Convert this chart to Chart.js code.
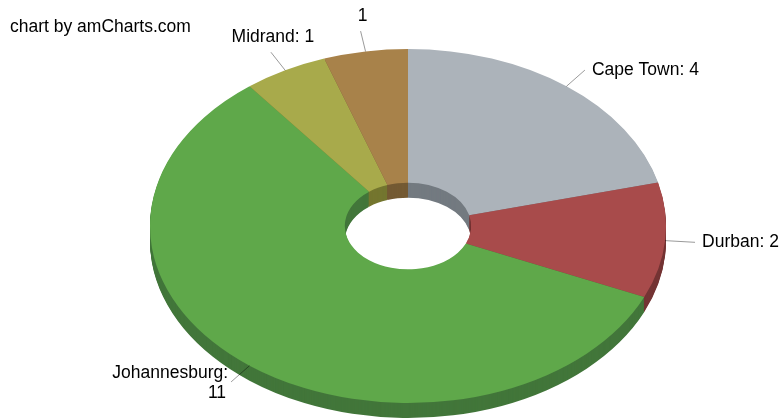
<!DOCTYPE html>
<html>
<head>
<meta charset="utf-8">
<script src="https://cdn.jsdelivr.net/npm/chart.js@4/dist/chart.umd.min.js"></script>
<style>
  body { margin: 0; background: #fff; }
  canvas { display: block; }
</style>
</head>
<body>
<canvas id="chart" width="783" height="419"></canvas>
<script>
/* global Chart */

const cities     = ['Cape Town', 'Durban', 'Johannesburg', 'Midrand', ''];
const counts     = [4, 2, 11, 1, 1];
const topColors  = ['#ACB3BA', '#A84B4B', '#5FA84A', '#A8AA4B', '#A8824A'];
const sideColors = ['#737A80', '#743434', '#42763A', '#74762F', '#745A33'];

// ── Géométrie du donut incliné ───────────────────────────────────────────────
const CX = 408, CY = 226, RX = 258, RY = 177, DEPTH = 15, LABEL_GAP = 30;
const FONT = '17.5px "Liberation Sans", Arial, sans-serif';

function ellipseTransform(ctx, arc, dy) {
  const R = arc.outerRadius;
  ctx.translate(CX, CY + dy);
  ctx.scale(RX / R, RY / R);
  ctx.translate(-arc.x, -arc.y);
}

const tiltPlugin = {
  id: 'tilt',
  beforeDatasetsDraw(chart) {
    const ctx  = chart.ctx;
    const arcs = chart.getDatasetMeta(0).data;
    // épaisseur : l'anneau redessiné plus sombre, décalé vers le bas
    for (let d = DEPTH; d >= 1; d--) {
      arcs.forEach((arc, i) => {
        ctx.save();
        ellipseTransform(ctx, arc, d);
        const saved = arc.options;
        arc.options = Object.assign({}, saved, { backgroundColor: sideColors[i], borderWidth: 0 });
        arc.draw(ctx);
        arc.options = saved;
        ctx.restore();
      });
    }
    ctx.save();
    ellipseTransform(ctx, arcs[0], 0);
  },
  afterDatasetsDraw(chart) {
    chart.ctx.restore();
  },
  afterDraw(chart) {
    const ctx  = chart.ctx;
    const arcs = chart.getDatasetMeta(0).data;
    ctx.save();
    ctx.font = FONT;
    ctx.fillStyle = '#000';
    ctx.textBaseline = 'middle';
    ctx.textAlign = 'left';
    ctx.fillText('chart by amCharts.com', 10, 27);

    arcs.forEach((arc, i) => {
      const mid = (arc.startAngle + arc.endAngle) / 2;
      const c = Math.cos(mid), s = Math.sin(mid);
      const x0 = CX + RX * c, y0 = CY + RY * s;
      const x1 = CX + (RX + LABEL_GAP) * c;
      const y1 = CY + (RX + LABEL_GAP) * (RY / RX) * s;

      ctx.strokeStyle = 'rgba(0,0,0,0.4)';
      ctx.lineWidth = 1;
      ctx.beginPath();
      ctx.moveTo(x0, y0);
      ctx.lineTo(x1, y1);
      ctx.stroke();

      const text = cities[i] ? `${cities[i]}: ${counts[i]}` : String(counts[i]);
      ctx.fillStyle = '#000';
      if (s < -0.84) {
        ctx.textAlign = 'center';
        ctx.fillText(text, x1 + 2, y1 - 15);
      } else if (c > 0) {
        ctx.textAlign = 'left';
        ctx.fillText(text, x1 + 7, y1);
      } else {
        ctx.textAlign = 'right';
        if (ctx.measureText(text).width > 130) {
          ctx.fillText(`${cities[i]}:`, x1 - 3, y1 - 9);
          ctx.fillText(String(counts[i]), x1 - 5, y1 + 11);
        } else {
          ctx.fillText(text, x1 - 3, y1);
        }
      }
    });
    ctx.restore();
  },
};

new Chart(document.getElementById('chart'), {
  type: 'doughnut',
  data: {
    labels: cities,
    datasets: [{
      data: counts,
      backgroundColor: topColors,
      borderWidth: 0,
      clip: false,
    }],
  },
  options: {
    responsive: false,
    animation: false,
    events: [],
    cutout: '24.5%',
    layout: { padding: 0 },
    plugins: { legend: { display: false }, tooltip: { enabled: false } },
  },
  plugins: [tiltPlugin],
});
</script>
</body>
</html>
